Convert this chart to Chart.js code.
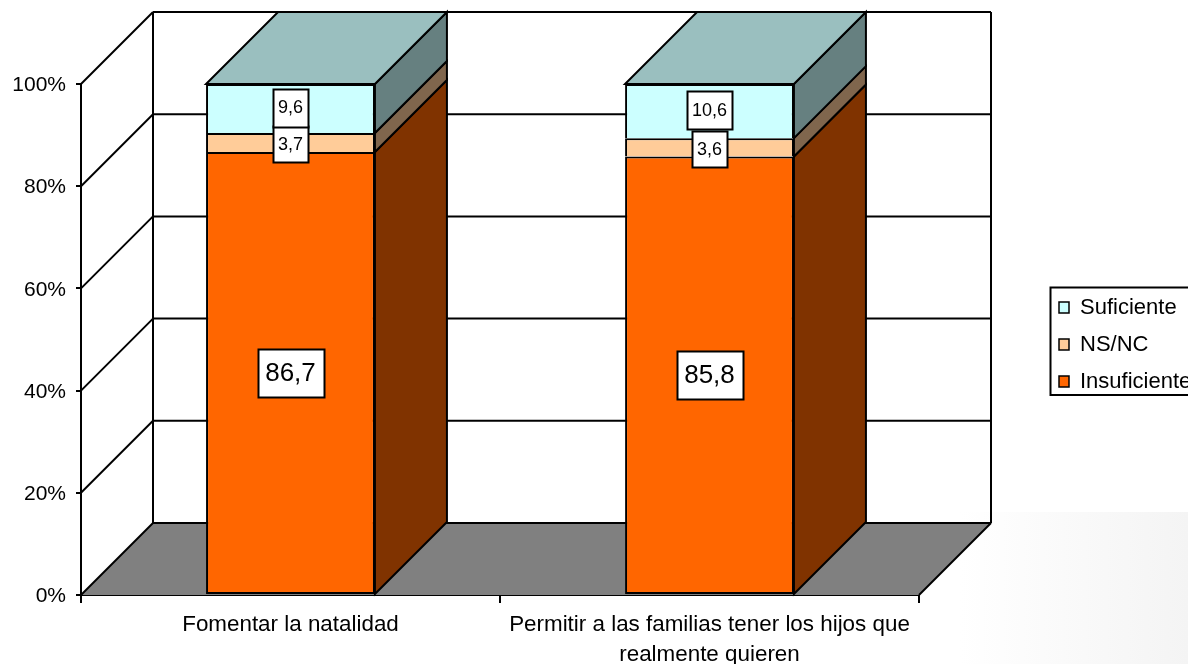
<!DOCTYPE html>
<html><head><meta charset="utf-8">
<style>html,body{margin:0;padding:0;background:#fff}#w{position:relative;width:1188px;height:664px}</style>
<script src="https://cdn.jsdelivr.net/npm/chart.js@4/dist/chart.umd.min.js"></script>
</head><body><div id="w"><canvas id="c" width="1188" height="664"></canvas></div>
<script>
const categories = ['Fomentar la natalidad', ['Permitir a las familias tener los hijos que', 'realmente quieren']];
const insuficiente = [86.7, 85.8];
const nsnc = [3.7, 3.6];
const suficiente = [9.6, 10.6];
const yTicks = [0, 20, 40, 60, 80, 100];

const FONT = '"Liberation Sans", Arial, sans-serif';
const DEPTH = 72, LW = 2;
const sideColors = ['#803300', '#80664D', '#668080'];
const topColor = '#9ABFBF';
const labelFonts = [26, 18, 18];
const labelHeights = [48, 36, 38];
const labelNudge = [0, 1.5, -1];
const LEGEND = {left: 1050.5, top: 287.5, right: 1190, bottom: 395};

function line(ctx, x1, y1, x2, y2) { ctx.beginPath(); ctx.moveTo(x1, y1); ctx.lineTo(x2, y2); ctx.stroke(); }
function poly(ctx, pts, fill, stroke) {
  ctx.beginPath(); pts.forEach((p, i) => i ? ctx.lineTo(p[0], p[1]) : ctx.moveTo(p[0], p[1])); ctx.closePath();
  ctx.fillStyle = fill; ctx.fill();
  if (stroke) { ctx.strokeStyle = '#000'; ctx.stroke(); }
}

const scene = {
  id: 'scene3d',
  afterLayout(chart) {
    const l = chart.legend; if (!l) return;
    l.left = 1044; l.top = 281.5; l.right = 1300; l.bottom = 600; l.width = 256; l.height = 319;
  },
  beforeDraw(chart) {
    const ctx = chart.ctx;
    ctx.save();
    const g = ctx.createLinearGradient(960, 0, 1188, 0);
    g.addColorStop(0, '#ffffff'); g.addColorStop(1, '#f4f4f4');
    ctx.fillStyle = g; ctx.fillRect(960, 512, 228, 152);
    ctx.restore();
  },
  beforeDatasetsDraw(chart) {
    const ctx = chart.ctx, a = chart.chartArea, ys = chart.scales.y;
    const b = a.bottom, t = a.top, L = a.left, R = a.right, D = DEPTH;
    ctx.save();
    ctx.lineWidth = LW; ctx.strokeStyle = '#000'; ctx.lineJoin = 'miter';
    poly(ctx, [[L, b], [L + D, b - D], [R + D, b - D], [R, b]], '#808080', false);
    yTicks.forEach(v => {
      const y = ys.getPixelForValue(v);
      line(ctx, L, y, L + D, y - D);
      line(ctx, L + D, y - D, R + D, y - D);
    });
    line(ctx, L + D, t - D, L + D, b - D);
    line(ctx, R + D, t - D, R + D, b - D);
    line(ctx, R, b, R + D, b - D);
    // side and top faces of every bar, from the bar elements
    chart.data.datasets.forEach((ds, i) => {
      chart.getDatasetMeta(i).data.forEach(el => {
        const p = el.getProps(['x', 'y', 'base', 'width'], true);
        const r = p.x + p.width / 2, l = p.x - p.width / 2;
        poly(ctx, [[r, p.base], [r + D, p.base - D], [r + D, p.y - D], [r, p.y]], sideColors[i], true);
        if (i === chart.data.datasets.length - 1) {
          poly(ctx, [[l, p.y], [l + D, p.y - D], [r + D, p.y - D], [r, p.y]], topColor, true);
        }
      });
    });
    ctx.restore();
  },
  afterDatasetsDraw(chart) {
    const ctx = chart.ctx;
    ctx.save();
    chart.data.datasets.forEach((ds, i) => {
      chart.getDatasetMeta(i).data.forEach((el, j) => {
        const p = el.getProps(['x', 'y', 'base'], true);
        const txt = String(ds.data[j]).replace('.', ',');
        ctx.font = labelFonts[i] + 'px ' + FONT;
        const w = Math.round(ctx.measureText(txt).width) + 2 * (labelFonts[i] > 20 ? 7.5 : 5);
        const h = labelHeights[i], cx = p.x, cy = (p.y + p.base) / 2 + labelNudge[i];
        const bx = Math.round(cx - w / 2) + .5, by = Math.round(cy - h / 2) + .5;
        ctx.fillStyle = '#fff'; ctx.fillRect(bx, by, w, h);
        ctx.lineWidth = LW; ctx.strokeStyle = '#000'; ctx.strokeRect(bx, by, w, h);
        ctx.fillStyle = '#000'; ctx.textAlign = 'center'; ctx.textBaseline = 'middle';
        ctx.fillText(txt, cx, cy + 1);
      });
    });
    ctx.restore();
  },
  afterDraw(chart) {
    const ctx = chart.ctx;
    ctx.save();
    ctx.lineWidth = LW; ctx.strokeStyle = '#000';
    ctx.strokeRect(LEGEND.left, LEGEND.top, LEGEND.right - LEGEND.left, LEGEND.bottom - LEGEND.top);
    ctx.restore();
  }
};

new Chart(document.getElementById('c'), {
  type: 'bar',
  data: {
    labels: categories,
    datasets: [
      {label: 'Insuficiente', data: insuficiente, backgroundColor: '#FF6600', borderWidth: {top: LW, left: LW, right: LW, bottom: LW}},
      {label: 'NS/NC', data: nsnc, backgroundColor: '#FFCC99', borderWidth: {top: LW, left: LW, right: LW, bottom: 0}},
      {label: 'Suficiente', data: suficiente, backgroundColor: '#CCFFFF', borderWidth: {top: LW, left: LW, right: LW, bottom: 0}}
    ].map(d => Object.assign(d, {borderColor: '#000', borderSkipped: false, barPercentage: 0.403, categoryPercentage: 1}))
  },
  options: {
    responsive: false, animation: false,
    devicePixelRatio: 1,
    layout: {padding: {left: 0, right: 269, top: 84, bottom: 0}},
    font: {family: FONT},
    plugins: {
      tooltip: {enabled: false},
      legend: {
        position: 'chartArea',
        align: 'start',
        reverse: true,
        labels: {
          boxWidth: 10, boxHeight: 11, padding: 15,
          color: '#000', font: {family: FONT, size: 22},
          generateLabels(chart) {
            return Chart.defaults.plugins.legend.labels.generateLabels(chart).map(it => Object.assign(it, {lineWidth: 1.5}));
          }
        }
      }
    },
    scales: {
      x: {
        stacked: true,
        afterFit(s) { s.height = 69; },
        grid: {display: true, drawOnChartArea: false, drawTicks: true, tickLength: 8, color: '#000', lineWidth: LW, offset: true},
        border: {display: true, color: '#000', width: LW},
        ticks: {color: '#000', padding: 7, maxRotation: 0, font: {family: FONT, size: 22.4, lineHeight: 1.34}}
      },
      y: {
        stacked: true, min: 0, max: 100,
        afterFit(s) { s.width = 81; },
        afterBuildTicks(s) { s.ticks = yTicks.map(v => ({value: v})); },
        grid: {display: true, drawOnChartArea: false, drawTicks: true, tickLength: 5, color: '#000', lineWidth: LW},
        border: {display: true, color: '#000', width: LW},
        ticks: {color: '#000', padding: 10, labelOffset: 1.5, font: {family: FONT, size: 21}, callback: v => v + '%'}
      }
    }
  },
  plugins: [scene]
});
</script></body></html>
